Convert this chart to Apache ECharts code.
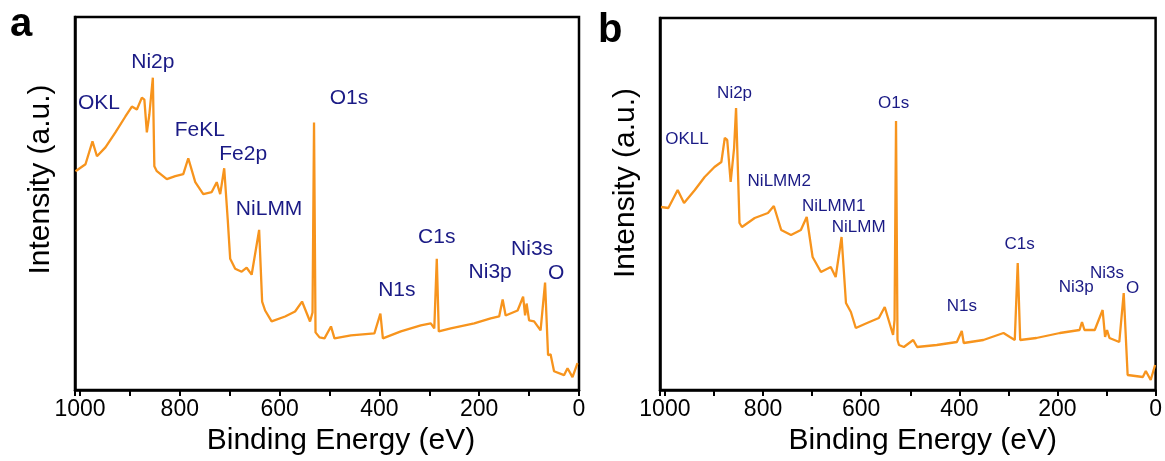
<!DOCTYPE html>
<html>
<head>
<meta charset="utf-8">
<script src="https://cdn.jsdelivr.net/npm/echarts@6/dist/echarts.min.js"></script>
<style>
  html, body { margin: 0; padding: 0; background: #fff; }
  #chart { width: 1165px; height: 461px; }
</style>
</head>
<body>
<div id="chart"></div>
<script>
  // panel a spectrum (binding energy eV / intensity a.u.)
  let energyA = [1009, 989, 975, 966, 949, 929, 909, 896, 886, 876, 871, 866, 861, 854, 851, 846, 826, 809, 793, 783,
    769, 753, 736, 726, 719, 711, 704, 699, 689, 676, 666, 656, 641, 635, 629, 616, 589, 569, 555, 539,
    534, 531, 528, 520, 510, 497, 490, 457, 410, 398, 393, 357, 317, 297, 290, 285, 281, 257, 210, 177,
    160, 153, 147, 123, 112, 108, 105, 100, 90, 77, 68, 62, 57, 50, 30, 23, 13, 3]
  let intensityA = [220, 227, 250, 235, 244, 259, 275, 285, 282, 294, 292, 259, 277, 314, 225, 220, 212, 215, 217, 233,
    209, 197, 199, 209, 197, 223, 172, 132, 122, 119, 123, 116, 161, 89, 80, 69, 74, 79, 89, 69,
    78, 269, 58, 53, 52, 64, 52, 55, 57, 77, 52, 59, 65, 67, 62, 132, 59, 62, 67, 72,
    74, 91, 75, 80, 94, 75, 87, 70, 69, 60, 108, 35, 36, 19, 15, 22, 13, 27]

  // panel b spectrum
  let energyB = [1008, 993, 974, 961, 939, 919, 899, 885, 878, 873, 866, 859, 855, 848, 843, 817, 790, 778, 763, 743,
    723, 711, 699, 682, 662, 652, 640, 631, 621, 611, 588, 564, 552, 535, 532, 529, 526, 523, 513, 494,
    486, 446, 405, 395, 391, 351, 310, 297, 287, 281, 276, 243, 195, 155, 150, 145, 124, 108, 103, 99,
    94, 74, 65, 57, 26, 20, 10, 1]
  let intensityB = [183, 182, 200, 187, 200, 213, 223, 228, 252, 250, 208, 242, 282, 167, 163, 172, 177, 184, 160, 155,
    160, 173, 133, 118, 123, 113, 153, 87, 78, 62, 67, 72, 83, 55, 70, 269, 50, 45, 43, 50,
    43, 45, 48, 59, 47, 50, 57, 53, 50, 127, 50, 52, 57, 60, 68, 60, 60, 80, 53, 60,
    52, 48, 97, 15, 13, 19, 10, 25]

  // peak annotations: name, energy and intensity where the text sits
  let peakNamesA = ['OKL', 'Ni2p', 'FeKL', 'Fe2p', 'NiLMM', 'O1s', 'C1s', 'N1s', 'Ni3p', 'Ni3s', 'O']
  let peakEnergyA = [962, 854, 760, 673, 621, 461, 285, 365, 178, 94, 46]
  let peakLevelA = [288, 330, 261, 237, 182, 293, 154, 100, 118, 142, 117]

  let peakNamesB = ['OKLL', 'Ni2p', 'NiLMM2', 'NiLMM1', 'NiLMM', 'O1s', 'C1s', 'N1s', 'Ni3p', 'Ni3s', 'O']
  let peakEnergyB = [955, 858, 767, 656, 605, 534, 277, 395, 162, 99, 47]
  let peakLevelB = [251, 297, 209, 184, 163, 287, 146, 84, 103, 117, 102]

  let xTicks = [0, 200, 400, 600, 800, 1000]

  const font = 'Arial, "Liberation Sans", sans-serif'
  const lineColor = '#F7941D'
  const labelColor = '#1A1A85'

  function zip(xs, ys) {
    return xs.map((x, i) => [x, ys[i]])
  }

  function peakData(names, xs, ys) {
    return names.map((n, i) => ({ name: n, value: [xs[i], ys[i]] }))
  }

  function makeX(idx, shift) {
    return {
      gridIndex: idx,
      type: 'value',
      inverse: true,
      min: 0,
      max: 1010,
      interval: 100,
      axisLine: { show: true, onZero: false, lineStyle: { color: '#000', width: 2.5 } },
      axisTick: { show: true, length: 6, lineStyle: { color: '#000', width: 2 } },
      axisLabel: {
        color: '#000',
        fontSize: 23,
        fontFamily: font,
        margin: 8,
        formatter: v => (xTicks.indexOf(v) >= 0 ? String(v) : '')
      },
      splitLine: { show: false },
      name: 'Binding Energy (eV)',
      nameLocation: 'middle',
      nameGap: 35,
      nameTextStyle: { color: '#000', fontSize: 30, fontFamily: font, padding: [0, 0, 0, shift] }
    }
  }

  function makeY(idx, max, shift) {
    return {
      gridIndex: idx,
      type: 'value',
      min: 0,
      max: max,
      axisLine: { show: true, onZero: false, lineStyle: { color: '#000', width: 2.5 } },
      axisTick: { show: false },
      axisLabel: { show: false },
      splitLine: { show: false },
      name: 'Intensity (a.u.)',
      nameLocation: 'middle',
      nameGap: 19,
      nameTextStyle: { color: '#000', fontSize: 30, fontFamily: font, padding: [0, 0, 0, shift] }
    }
  }

  function peakSeries(idx, names, xs, ys, size) {
    return {
      type: 'scatter',
      xAxisIndex: idx,
      yAxisIndex: idx,
      symbolSize: 0,
      silent: true,
      itemStyle: { color: labelColor, opacity: 1 },
      data: peakData(names, xs, ys),
      label: {
        show: true,
        position: 'inside',
        formatter: p => p.name,
        color: labelColor,
        opacity: 1,
        textBorderWidth: 0,
        textBorderColor: 'transparent',
        fontSize: size,
        fontFamily: font
      }
    }
  }

  let chart = echarts.init(document.getElementById('chart'))
  chart.setOption({
    animation: false,
    backgroundColor: '#fff',
    grid: [
      { left: 75, top: 17, width: 504, height: 375, show: true, borderColor: '#000', borderWidth: 2.5 },
      { left: 660, top: 18, width: 499, height: 372, show: true, borderColor: '#000', borderWidth: 2.5 }
    ],
    xAxis: [makeX(0, 28), makeX(1, 30)],
    yAxis: [makeY(0, 375, 48), makeY(1, 372, 42)],
    graphic: [
      { type: 'text', left: 10, top: 5, style: { text: 'a', fontSize: 40, fontWeight: 'bold', fontFamily: font, fill: '#000' } },
      { type: 'text', left: 598, top: 11, style: { text: 'b', fontSize: 40, fontWeight: 'bold', fontFamily: font, fill: '#000' } }
    ],
    series: [
      {
        type: 'line',
        xAxisIndex: 0,
        yAxisIndex: 0,
        showSymbol: false,
        lineStyle: { color: lineColor, width: 2.3 },
        data: zip(energyA, intensityA)
      },
      {
        type: 'line',
        xAxisIndex: 1,
        yAxisIndex: 1,
        showSymbol: false,
        lineStyle: { color: lineColor, width: 2.3 },
        data: zip(energyB, intensityB)
      },
      peakSeries(0, peakNamesA, peakEnergyA, peakLevelA, 21),
      peakSeries(1, peakNamesB, peakEnergyB, peakLevelB, 17)
    ]
  })
</script>
</body>
</html>
